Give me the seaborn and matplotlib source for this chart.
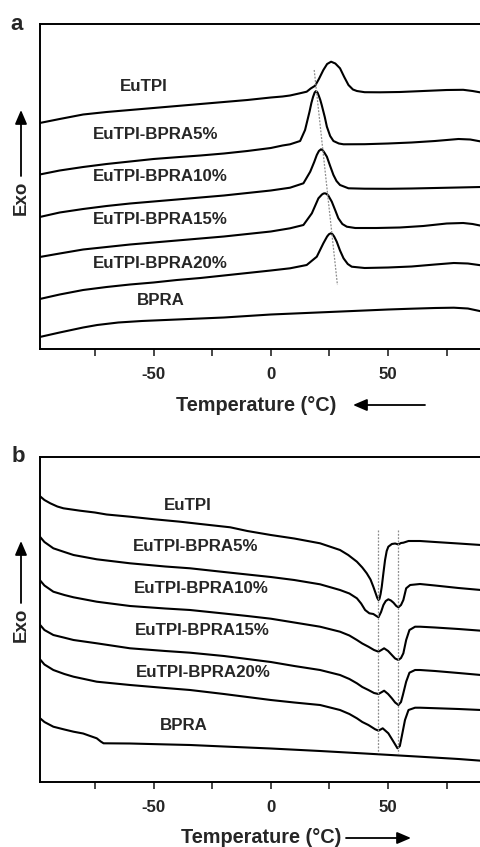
import numpy as np
import pandas as pd
import matplotlib
matplotlib.use("Agg")
import matplotlib.pyplot as plt
from matplotlib.patches import FancyArrowPatch
import seaborn as sns

sns.set_style("white")
plt.rcParams['font.family'] = ['Liberation Sans', 'DejaVu Sans']
plt.rcParams['font.weight'] = 'bold'

# ---------------- Panel a (cooling) ----------------
a_labels = ["EuTPI", "EuTPI-BPRA5%", "EuTPI-BPRA10%", "EuTPI-BPRA15%", "EuTPI-BPRA20%", "BPRA"]

a_eutpi_T = [-98.5, -90, -80, -70, -60, -50, -40, -30, -20, -10, 0, 5, 8.2, 12, 15.3, 17, 18.9, 20.5, 22.4, 24, 25.7,
             27.5, 29.5, 31.3, 33.1, 35, 36.7, 40, 46.6, 55, 65, 75, 82, 86, 89.6]
a_eutpi_h = [226, 230, 234.5, 237, 239, 241, 243, 245, 247, 249, 251.5, 252.5, 253.5, 255.5, 257.3, 260.5, 263.3, 270, 279, 285, 287.3,
             285.5, 280.7, 272, 264, 259.5, 258, 256.8, 256.7, 257, 258, 259, 259.2, 258, 256.5]

a_b5_T = [-98.5, -90, -80, -70, -60, -50, -40, -30, -20, -10, 0, 5, 8.2, 12.5, 14.6, 16.5, 17.3, 18, 18.7, 19.3, 19.9, 20.5,
          21.1, 21.7, 23, 23.9, 25.3, 26.7, 29, 31, 40, 50, 60, 70, 80, 85, 89.6]
a_b5_h = [174.5, 178.5, 182, 185, 187.5, 190, 191.8, 193.5, 195.5, 198, 201, 203.5, 204.7, 208, 219, 237.3, 246, 252, 256.5, 258, 256.5, 253,
          249, 244, 232, 222.3, 213, 208, 205.5, 204.7, 204.8, 205.5, 206.5, 208, 210, 209.5, 207.5]

a_b10_T = [-98.5, -90, -80, -70, -60, -50, -40, -30, -20, -10, 0, 8.2, 13.9, 16.8, 18.5, 19.6, 20.5, 21.4, 22.2, 22.8, 23.9,
           25.3, 26.7, 28, 29.5, 33.1, 40, 50, 60, 70, 80, 89.6]
a_b10_h = [132, 136.5, 140, 143, 145.5, 147.5, 149.5, 151.5, 153.5, 156, 158.5, 161.3, 165.7, 177.3, 187, 194, 198, 199.7, 198.5, 196.5, 192.3,
           183, 174, 168, 164, 160.7, 160.3, 160.2, 160.5, 161, 161.5, 162]

a_b15_T = [-98.5, -90, -80, -70, -60, -50, -40, -30, -20, -10, 0, 8.2, 13.9, 17.5, 20.3, 21.8, 22.5, 23.1, 23.8, 24.5, 26,
           27.5, 28.8, 30.5, 32.4, 36, 45, 55, 65, 75, 82, 86, 89.6]
a_b15_h = [92, 95.5, 99.5, 102, 104.5, 106.5, 108.5, 110.5, 112.5, 115, 117.5, 120.7, 124, 135.7, 150.7, 154.5, 155.5, 155.7, 155, 153.5, 147.3,
           138.5, 130.7, 125, 122.3, 121, 121, 121.5, 123, 125.5, 126, 125, 123.3]

a_b20_T = [-98.5, -90, -80, -70, -60, -50, -40, -30, -20, -10, 0, 8.2, 15.3, 19.6, 22.4, 24, 24.8, 25.6, 26.3, 27, 28.1,
           29.5, 31, 32.8, 34.5, 40, 50, 60, 70, 78, 84, 89.6]
a_b20_h = [50, 54.5, 59, 62, 64.5, 66.5, 69, 71, 73.5, 76, 78.5, 80.7, 84, 92.3, 105.7, 112.5, 114.8, 115.7, 114.8, 112.5, 107.3,
           98.5, 90.7, 85, 82.3, 81, 81.5, 82.5, 84.5, 86, 85.5, 83.7]

a_bpra_T = [-98.5, -90, -80, -74, -65, -55, -45, -35, -20, -10, 0, 10, 20, 30, 40, 50, 60, 70, 78, 84, 89.6]
a_bpra_h = [12, 16.5, 21.5, 24, 26.5, 28, 29, 30, 31.5, 33, 34.5, 35.5, 36.5, 37.5, 38.5, 39.5, 40.3, 41, 41.3, 40.5, 37.7]

a_guide_T = [18.5, 28.4]
a_guide_h = [279, 64]

a_label_T = [-54.3, -48.9, -47.2, -47.2, -47.2, -47.0]
a_label_h = [262.7, 214.3, 172.7, 129.3, 86, 48.3]

# ---------------- Panel b (heating) ----------------
b_eutpi_T = [-98.5, -96.5, -94, -91, -88.4, -81.3, -75, -70, -60, -50, -38.7, -30, -17.3, -10, 0, 10, 21, 29.5, 33, 36.7,
             39, 40.9, 42.5, 43.7, 44.8, 45.4, 45.9, 46.3, 46.8, 47.3, 48, 48.7, 49.4, 50.1, 51.6, 53, 54.4, 55.5, 56.5,
             58.7, 63.6, 70, 80, 89.6]
b_eutpi_h = [286, 282, 278.7, 275.5, 273.7, 271.3, 269.5, 267.5, 265.3, 262.8, 260.3, 258, 254.7, 251, 247, 243.5, 238.7, 232, 227, 220.3,
             214.5, 208.7, 202.5, 195.3, 188, 184, 182, 183, 188, 195.3, 209, 222, 231, 235.3, 238, 238.5, 237.5, 239, 239.3,
             241, 241, 240, 238.5, 237]

b_b5_T = [-98.5, -96.5, -92.7, -88, -84.1, -74.2, -60, -45, -34.4, -20, -10, 0, 10, 21, 29.5, 33.5, 36.7, 38.5, 40.2, 42,
          43.7, 45, 45.9, 47, 48, 49, 50.1, 51.2, 52.3, 53.5, 54.4, 55.5, 56.5, 57.7, 59.4, 63.6, 70, 80, 89.6]
b_b5_h = [245.5, 240, 233.7, 230, 227, 222.7, 218.7, 215.5, 213.7, 210, 207.5, 205, 202, 197.7, 192, 188.5, 183.7, 178.5, 172, 168.7,
          168, 166, 164.7, 170, 177, 181, 182.7, 181.5, 179.3, 176, 174.7, 177, 182, 193.7, 197, 198, 196.5, 194, 192]

b_b10_T = [-98.5, -96.5, -92.7, -88, -84.1, -74.2, -60, -45, -34.4, -20, -10, 0, 10, 21, 29.5, 33.5, 36.7, 39, 41.6, 44,
           45.9, 47, 48.3, 50, 51.6, 53, 54.4, 55.5, 56.5, 57.7, 59.1, 61.5, 63.6, 70, 80, 89.6]
b_b10_h = [202, 196.5, 190.3, 187, 184.7, 180.3, 176, 173.5, 172, 168.5, 166, 163.3, 159.5, 155.3, 150.3, 146.5, 142, 138.5, 135.3, 132,
           130.3, 131.8, 133.7, 131, 127, 123.5, 122, 124, 128.7, 142, 152, 155.3, 155.3, 154.5, 153, 151.3]

b_b15_T = [-98.5, -96.5, -92.7, -88, -84.1, -74.2, -60, -45, -34.4, -20, -10, 0, 10, 21, 29.5, 33.5, 36.7, 39, 41.6, 44,
           45.9, 47, 48.3, 50, 51.6, 53, 54.4, 55.5, 56.3, 57.7, 59.1, 61.5, 63.6, 70, 80, 89.6]
b_b15_h = [157.5, 152, 147, 144.3, 142, 138.7, 133.7, 131, 129.3, 126, 123, 120, 116, 112, 107, 103, 98.7, 95, 92, 89,
           88, 89.5, 91.3, 88, 83.7, 79.5, 77, 80, 87, 100.3, 109.3, 112, 112, 111, 109, 107]

b_b20_T = [-98.5, -96.5, -92.7, -88, -84.1, -74.2, -60, -45, -34.4, -20, -10, 0, 10, 21, 29.5, 33.5, 36.7, 39, 41.6, 44.5,
           45.9, 47.7, 50.1, 52.3, 54, 55, 55.8, 57.2, 58.7, 61.5, 63.6, 70, 80, 89.6]
b_b20_h = [123, 117.5, 112, 108, 105.3, 100.3, 97, 94, 92, 88, 85, 82, 79.5, 77, 72, 68, 63.7, 60, 57, 52.7,
           51.3, 53.7, 48.7, 40.3, 33.7, 36, 45.3, 62, 72, 74.3, 74.3, 73.8, 73, 72]

b_bpra_T = [-98.5, -96.5, -92.7, -88, -84.1, -80, -77, -74.2, -72.5, -71.3, -60, -45, -34.4, -20, 0, 21, 40, 63.6, 80, 89.6]
b_bpra_h = [64, 60, 55.3, 52.5, 50.3, 48.5, 46, 43.7, 40.5, 38.7, 38.5, 37.6, 37, 35.5, 33.5, 31, 28.5, 25.3, 23, 21.3]

b_guide_T = [45.9, 54.1]
b_guide_h = [252, 28.7]

b_label_T = [-35.2, -31.9, -29.8, -29.2, -28.8, -36.9]
b_label_h = [277, 235.3, 193.7, 151.3, 109.7, 57]

xticks_major = [-50, 0, 50]
xticks_minor = [-75, -25, 25, 75]
xlim = (-98.6, 89.6)
ylim = (0, 325)

W, H = 481, 847
fig = plt.figure(figsize=(W / 100, H / 100), dpi=100)

def px_axes(x0, y0top, x1, y1bot):
    return fig.add_axes([x0 / W, 1 - y1bot / H, (x1 - x0) / W, (y1bot - y0top) / H])

ax_a = px_axes(39.5, 24, 481, 349)
ax_b = px_axes(39.5, 457, 481, 782)

def draw_panel(ax, curves, guide, labels_T, labels_h):
    for T, h in curves:
        df = pd.DataFrame({"T": T, "h": h})
        sns.lineplot(data=df, x="T", y="h", ax=ax, color="black", lw=1.5,
                     sort=False, estimator=None)
    for T, h in guide:
        df = pd.DataFrame({"T": T, "h": h})
        sns.lineplot(data=df, x="T", y="h", ax=ax, color="#8c8c8c", lw=0.9,
                     linestyle=(0, (1.5, 1.2)), sort=False, estimator=None)
    for lab, t, h in zip(a_labels, labels_T, labels_h):
        ax.text(t, h, lab, ha="center", va="center", fontsize=12.2, fontweight="bold")
    ax.set_xlim(*xlim)
    ax.set_ylim(*ylim)
    ax.set_xticks(xticks_major)
    ax.set_xticks(xticks_minor, minor=True)
    ax.set_xticklabels([str(v) for v in xticks_major], fontsize=12.2, fontweight="bold")
    ax.set_yticks([])
    ax.tick_params(axis="x", which="both", direction="out", length=5, width=1.2,
                   bottom=True, pad=8)
    ax.set_xlabel("")
    ax.set_ylabel("")
    for s in ["left", "top", "bottom"]:
        ax.spines[s].set_visible(True)
        ax.spines[s].set_linewidth(1.4)
        ax.spines[s].set_color("black")
    ax.spines["right"].set_visible(False)

draw_panel(ax_a,
           [(a_eutpi_T, a_eutpi_h), (a_b5_T, a_b5_h), (a_b10_T, a_b10_h),
            (a_b15_T, a_b15_h), (a_b20_T, a_b20_h), (a_bpra_T, a_bpra_h)],
           [(a_guide_T, a_guide_h)], a_label_T, a_label_h)

draw_panel(ax_b,
           [(b_eutpi_T, b_eutpi_h), (b_b5_T, b_b5_h), (b_b10_T, b_b10_h),
            (b_b15_T, b_b15_h), (b_b20_T, b_b20_h), (b_bpra_T, b_bpra_h)],
           [([b_guide_T[0]] * 2, b_guide_h), ([b_guide_T[1]] * 2, b_guide_h)],
           b_label_T, b_label_h)

# panel letters
fig.text(17 / W, 1 - 24 / H, "a", fontsize=16, fontweight="bold", ha="center", va="center")
fig.text(18 / W, 1 - 456 / H, "b", fontsize=16, fontweight="bold", ha="center", va="center")

# y labels "Exo" with arrows
fig.text(21 / W, 1 - 198 / H, "Exo", rotation=90, fontsize=13.5, fontweight="bold", ha="center", va="center")
fig.text(21 / W, 1 - 625 / H, "Exo", rotation=90, fontsize=13.5, fontweight="bold", ha="center", va="center")

arrow_kw = dict(arrowstyle="-|>,head_length=0.7,head_width=0.3", lw=1.3, color="black", mutation_scale=12,
                shrinkA=0, shrinkB=0)
fig.add_artist(FancyArrowPatch((21 / W, 1 - 176 / H), (21 / W, 1 - 110 / H),
                               transform=fig.transFigure, **arrow_kw))
fig.add_artist(FancyArrowPatch((21 / W, 1 - 603 / H), (21 / W, 1 - 541 / H),
                               transform=fig.transFigure, **arrow_kw))

# x labels with arrows
fig.text(256 / W, 1 - 405 / H, "Temperature (°C)", fontsize=14.3, fontweight="bold", ha="center", va="center")
fig.text(261 / W, 1 - 837 / H, "Temperature (°C)", fontsize=14.3, fontweight="bold", ha="center", va="center")
fig.add_artist(FancyArrowPatch((425 / W, 1 - 405 / H), (353 / W, 1 - 405 / H),
                               transform=fig.transFigure, **arrow_kw))
fig.add_artist(FancyArrowPatch((346 / W, 1 - 838 / H), (411 / W, 1 - 838 / H),
                               transform=fig.transFigure, **arrow_kw))

fig.savefig("out.png", dpi=100)
